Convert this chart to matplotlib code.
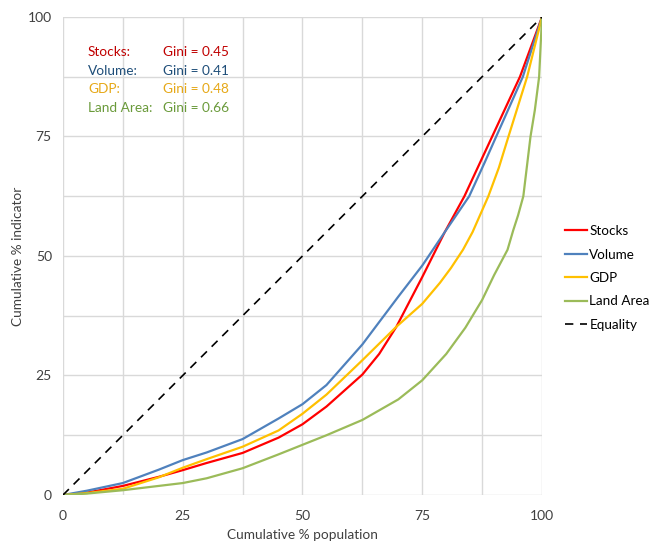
import numpy as np
import matplotlib
matplotlib.use('Agg')
from matplotlib import pyplot as plt

plt.rcParams['font.family'] = ['Lato', 'DejaVu Sans']

# values (cumulative % population, cumulative % indicator)
stocks_x = [0, 5, 12.5, 20, 25, 30, 37.5, 45, 50, 55, 62.5, 66, 69.6, 75, 79.7, 83.8, 89.6, 95.4, 100]
stocks_y = [0, 0.5, 1.9, 3.8, 5.2, 6.7, 8.8, 12, 14.8, 18.5, 25.2, 29.5, 35.2, 45.6, 55, 62.5, 75, 87.5, 100]

volume_x = [0, 5, 12.5, 20, 25, 30, 37.5, 45, 50, 55, 62.5, 70, 75, 79.7, 84.8, 88, 92, 96, 100]
volume_y = [0, 0.9, 2.5, 5.3, 7.3, 8.9, 11.7, 16, 19, 23, 31.5, 41.5, 48, 55, 62.5, 69.5, 78.5, 87.5, 100]

gdp_x = [0, 5, 12.5, 20, 25, 30, 37.5, 45, 50, 55, 62.5, 69.6, 75, 78.7, 81, 83.5, 85.5, 88.8, 91, 93, 96.9, 100]
gdp_y = [0, 0.4, 1.3, 3.7, 5.7, 7.5, 10.1, 13.5, 17, 21, 28.2, 35.2, 40, 44.4, 47.5, 51.3, 55, 62.5, 68.5, 75, 87.5, 100]

land_x = [0, 5, 12.5, 20, 25, 30, 37.5, 45, 50, 55, 62.5, 70, 75, 80, 84, 87.5, 90, 92.8, 94, 95, 96.1, 97.6, 98.5, 99.4, 100]
land_y = [0, 0.3, 1.0, 1.9, 2.5, 3.5, 5.6, 8.5, 10.5, 12.5, 15.7, 20, 24, 29.5, 35, 40.8, 46, 51.3, 55.4, 58.5, 62.5, 75, 80.5, 87.5, 100]

names = ['Stocks', 'Volume', 'GDP', 'Land Area']
gini = [0.45, 0.41, 0.48, 0.66]
line_cols = ['#FF0000', '#4F81BD', '#FFC000', '#9BBB59']
text_cols = ['#C00000', '#1F4E79', '#E6A817', '#6A9A3A']

fig = plt.figure(figsize=(6.52, 5.43), dpi=100)
ax = fig.add_axes([0.0966, 0.0884, 0.7347, 0.8803])

series = [(stocks_x, stocks_y), (volume_x, volume_y), (gdp_x, gdp_y), (land_x, land_y)]
for (xs, ys), n, c in zip(series, names, line_cols):
    ax.plot(xs, ys, color=c, lw=1.6, label=n, solid_joinstyle='round')
ax.plot([0, 100], [0, 100], color='black', lw=1.2, ls=(0, (5, 4)), label='Equality')

ax.set_xlim(0, 100)
ax.set_ylim(0, 100)
ax.set_xticks(np.arange(0, 101, 12.5))
ax.set_yticks(np.arange(0, 101, 12.5))
ax.set_xticklabels(['0', '', '25', '', '50', '', '75', '', '100'])
ax.set_yticklabels(['0', '', '25', '', '50', '', '75', '', '100'])
ax.tick_params(length=0, labelsize=10, colors='#404040')
ax.tick_params(axis='x', pad=10.5)
ax.tick_params(axis='y', pad=8)
ax.grid(True, color='#D9D9D9', lw=1)
ax.set_axisbelow(True)
for s in ax.spines.values():
    s.set_visible(False)

ax.set_xlabel('Cumulative % population', fontsize=9.8, color='#404040', labelpad=5.5)
ax.set_ylabel('Cumulative % indicator', fontsize=9.8, color='#404040', labelpad=3)

for i, (n, g, c) in enumerate(zip(names, gini, text_cols)):
    yy = 92.7 - i * 3.9
    ax.text(5.2, yy, n + ':', color=c, fontsize=9.8, va='center')
    ax.text(20.8, yy, 'Gini = %.2f' % g, color=c, fontsize=9.8, va='center')

leg = ax.legend(loc='center left', bbox_to_anchor=(1.037, 0.454), frameon=False,
                fontsize=9.7, handlelength=1.6, handletextpad=0.2, labelspacing=0.85,
                borderaxespad=0)

fig.savefig('out.png', dpi=100)
